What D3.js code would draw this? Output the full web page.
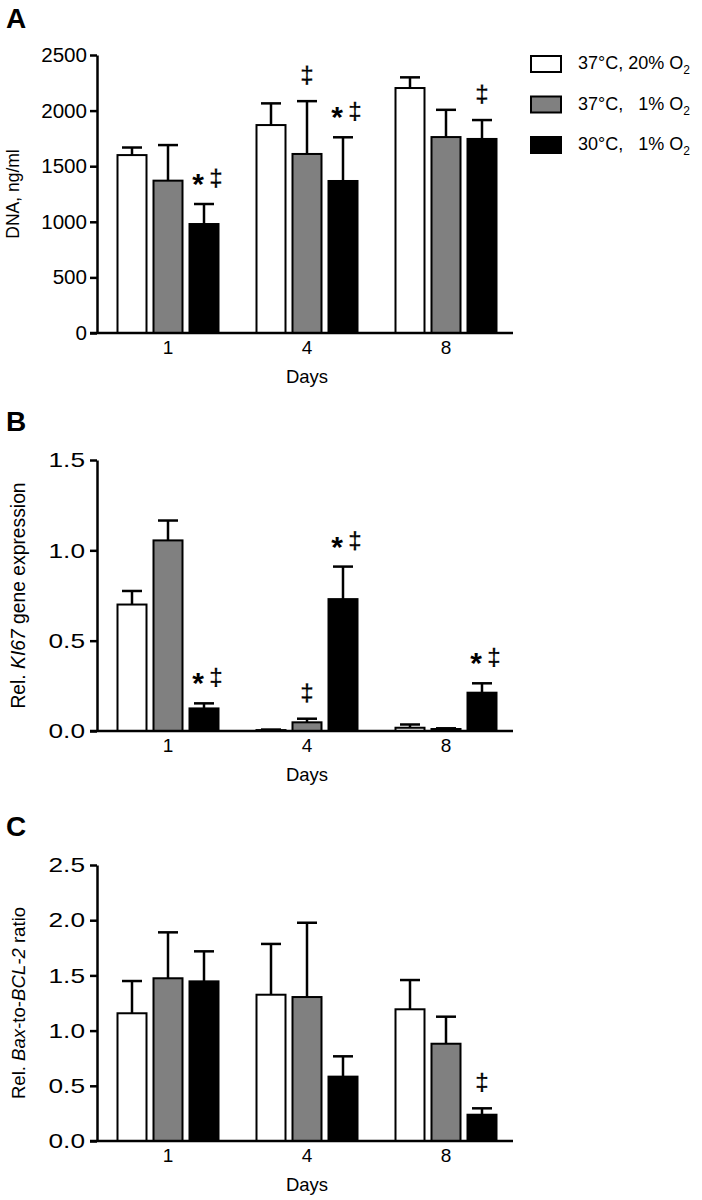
<!DOCTYPE html>
<html>
<head>
<meta charset="utf-8">
<script src="https://cdn.jsdelivr.net/npm/d3@7"></script>
<style>
  html, body { margin: 0; padding: 0; background: #fff; }
  svg { display: block; font-family: "Liberation Sans", Arial, Helvetica, sans-serif; }
</style>
</head>
<body>
<svg id="chart" width="702" height="1200"></svg>
<script>
// ---------- DATA ----------
const days = ["1", "4", "8"];
const seriesLabels = ["37°C, 20% O2", "37°C,   1% O2", "30°C,   1% O2"];
const seriesFill = ["#ffffff", "#808080", "#000000"];

// Panel A: DNA, ng/ml  (rows = series, cols = days 1,4,8)
const dnaMean = [[1600, 1870, 2203], [1370, 1610, 1762], [980, 1367, 1745]];
const dnaErr  = [[68, 195, 96], [320, 475, 245], [180, 393, 170]];
const dnaTicks = [0, 500, 1000, 1500, 2000, 2500];
const dnaSig = [["1", 2, "*‡"], ["4", 1, "‡"], ["4", 2, "*‡"], ["8", 2, "‡"]];

// Panel B: Rel. KI67 gene expression
const ki67Mean = [[0.70, 0.005, 0.018], [1.055, 0.048, 0.011], [0.125, 0.73, 0.212]];
const ki67Err  = [[0.075, 0.003, 0.018], [0.11, 0.02, 0.004], [0.028, 0.18, 0.052]];
const ki67Ticks = [0, 0.5, 1.0, 1.5];
const ki67Sig = [["1", 2, "*‡"], ["4", 1, "‡"], ["4", 2, "*‡"], ["8", 2, "*‡"]];

// Panel C: Rel. Bax-to-BCL-2 ratio
const baxMean = [[1.157, 1.325, 1.193], [1.474, 1.304, 0.881], [1.446, 0.583, 0.238]];
const baxErr  = [[0.292, 0.46, 0.265], [0.416, 0.673, 0.245], [0.272, 0.184, 0.058]];
const baxTicks = [0, 0.5, 1.0, 1.5, 2.0, 2.5];
const baxSig = [["8", 2, "‡"]];

const xTitle = "Days";

// ---------- DRAW ----------
const svg = d3.select("#chart");
const AXIS_X = 97, AXIS_END = 513;

const x = d3.scaleBand().domain(days).range([98.5, 515.5]);
const sub = d3.scaleBand().domain([0, 1, 2]).range([-54, 54]);
const BAR_W = 29;

const panels = [
  { letter: "A", letterY: 28, top: 55, bottom: 333, mean: dnaMean, err: dnaErr, ticks: dnaTicks, fmt: d3.format("d"),
    tickSize: 20, tickScale: 1.03, tickRight: 10, labelX: 13, labelSize: 17.5, label: [["DNA, ng/ml", false]], sig: dnaSig },
  { letter: "B", letterY: 431, top: 460, bottom: 731, mean: ki67Mean, err: ki67Err, ticks: ki67Ticks, fmt: d3.format(".1f"),
    tickSize: 21, tickScale: 1.25, tickRight: 12, labelX: 18, labelSize: 19.3, label: [["Rel. ", false], ["KI67", true], [" gene expression", false]], sig: ki67Sig },
  { letter: "C", letterY: 836, top: 865, bottom: 1141, mean: baxMean, err: baxErr, ticks: baxTicks, fmt: d3.format(".1f"),
    tickSize: 21, tickScale: 1.25, tickRight: 12, labelX: 18, labelSize: 18.6, label: [["Rel. ", false], ["Bax", true], ["-to-", false], ["BCL-2", true], [" ratio", false]], sig: baxSig }
];

panels.forEach(p => {
  const g = svg.append("g");
  const y = d3.scaleLinear().domain([0, p.ticks[p.ticks.length - 1]]).range([p.bottom, p.top]);

  // panel letter
  g.append("text").attr("x", 6).attr("y", p.letterY)
    .attr("font-size", 28).attr("font-weight", "bold").text(p.letter);

  // bars
  const cells = [];
  p.mean.forEach((row, s) => row.forEach((v, di) => cells.push({ s, day: days[di], v, e: p.err[s][di] })));

  const cx = d => x(d.day) + x.bandwidth() / 2 + sub(d.s) + sub.bandwidth() / 2;

  g.selectAll("rect.bar").data(cells).enter().append("rect")
    .attr("class", "bar")
    .attr("x", d => cx(d) - BAR_W / 2)
    .attr("y", d => y(d.v))
    .attr("width", BAR_W)
    .attr("height", d => y(0) - y(d.v))
    .attr("fill", d => seriesFill[d.s])
    .attr("stroke", "#000").attr("stroke-width", 2);

  // error bars (upper only)
  const eb = g.selectAll("g.err").data(cells).enter().append("g").attr("class", "err")
    .attr("stroke", "#000").attr("stroke-width", 2.5);
  eb.append("line").attr("x1", cx).attr("x2", cx).attr("y1", d => y(d.v)).attr("y2", d => y(d.v + d.e));
  eb.append("line").attr("x1", d => cx(d) - 10).attr("x2", d => cx(d) + 10)
    .attr("y1", d => y(d.v + d.e)).attr("y2", d => y(d.v + d.e));

  // y axis
  const ya = g.append("g").attr("transform", `translate(${AXIS_X},0)`)
    .call(d3.axisLeft(y).tickValues(p.ticks).tickFormat(p.fmt).tickSize(7).tickSizeOuter(0).tickPadding(3));
  ya.selectAll("path.domain").attr("stroke-width", 2.5).attr("stroke", "#000");
  ya.selectAll(".tick line").attr("stroke-width", 2.5).attr("stroke", "#000");
  ya.selectAll(".tick text").attr("font-size", p.tickSize).attr("fill", "#000")
    .attr("font-family", "'Liberation Sans', Arial, sans-serif")
    .attr("x", -p.tickRight / p.tickScale)
    .attr("transform", `scale(${p.tickScale},1)`);

  // x axis
  const xa = g.append("g").attr("transform", `translate(0,${p.bottom})`)
    .call(d3.axisBottom(x).tickSize(0).tickPadding(8));
  xa.select("path.domain").remove();
  g.append("line").attr("x1", AXIS_X - 7).attr("x2", AXIS_END).attr("y1", p.bottom).attr("y2", p.bottom)
    .attr("stroke", "#000").attr("stroke-width", 2.5);
  xa.selectAll(".tick text").attr("font-size", 19).attr("fill", "#000")
    .attr("font-family", "'Liberation Sans', Arial, sans-serif");

  // x title
  g.append("text").attr("x", x("4") + x.bandwidth() / 2).attr("y", p.bottom + 50)
    .attr("text-anchor", "middle").attr("font-size", 18.5).text(xTitle);

  // y title
  const yl = g.append("text")
    .attr("transform", `translate(${p.labelX},${(p.top + p.bottom) / 2}) rotate(-90)`)
    .attr("text-anchor", "middle").attr("dominant-baseline", "central")
    .attr("font-size", p.labelSize);
  p.label.forEach(([t, it]) => yl.append("tspan").attr("font-style", it ? "italic" : "normal").text(t));

  // significance marks
  p.sig.forEach(([day, s, txt]) => {
    const d = cells.find(c => c.day === day && c.s === s);
    const capY = y(d.v + d.e);
    const c = cx(d);
    const hasStar = txt.includes("*");
    const dagX = hasStar ? c + 12 : c;
    const dagY = capY - 18;
    g.append("text").attr("x", dagX).attr("y", dagY)
      .attr("transform", `rotate(0.2,${dagX},${dagY})`)
      .attr("text-anchor", "middle").attr("font-size", 24).attr("fill", "#000")
      .attr("stroke", "#000").attr("stroke-width", 0.3).text("‡");
    if (hasStar) {
      g.append("text").attr("x", c - 6).attr("y", capY - 10)
        .attr("text-anchor", "middle").attr("font-size", 30).attr("font-weight", "bold").attr("fill", "#000").text("*");
    }
  });
});

// legend (panel A)
const lg = svg.append("g");
seriesLabels.forEach((lab, i) => {
  const yy = 56 + i * 40.5;
  lg.append("rect").attr("x", 531).attr("y", yy).attr("width", 30).attr("height", 16)
    .attr("fill", seriesFill[i]).attr("stroke", "#000").attr("stroke-width", 2);
  const t = lg.append("text").attr("x", 578).attr("y", yy + 13).attr("font-size", 18)
    .attr("xml:space", "preserve").style("white-space", "pre");
  t.append("tspan").text(lab.slice(0, -1));
  t.append("tspan").attr("font-size", 12).attr("dy", 5).text(lab.slice(-1));
});
</script>
</body>
</html>
